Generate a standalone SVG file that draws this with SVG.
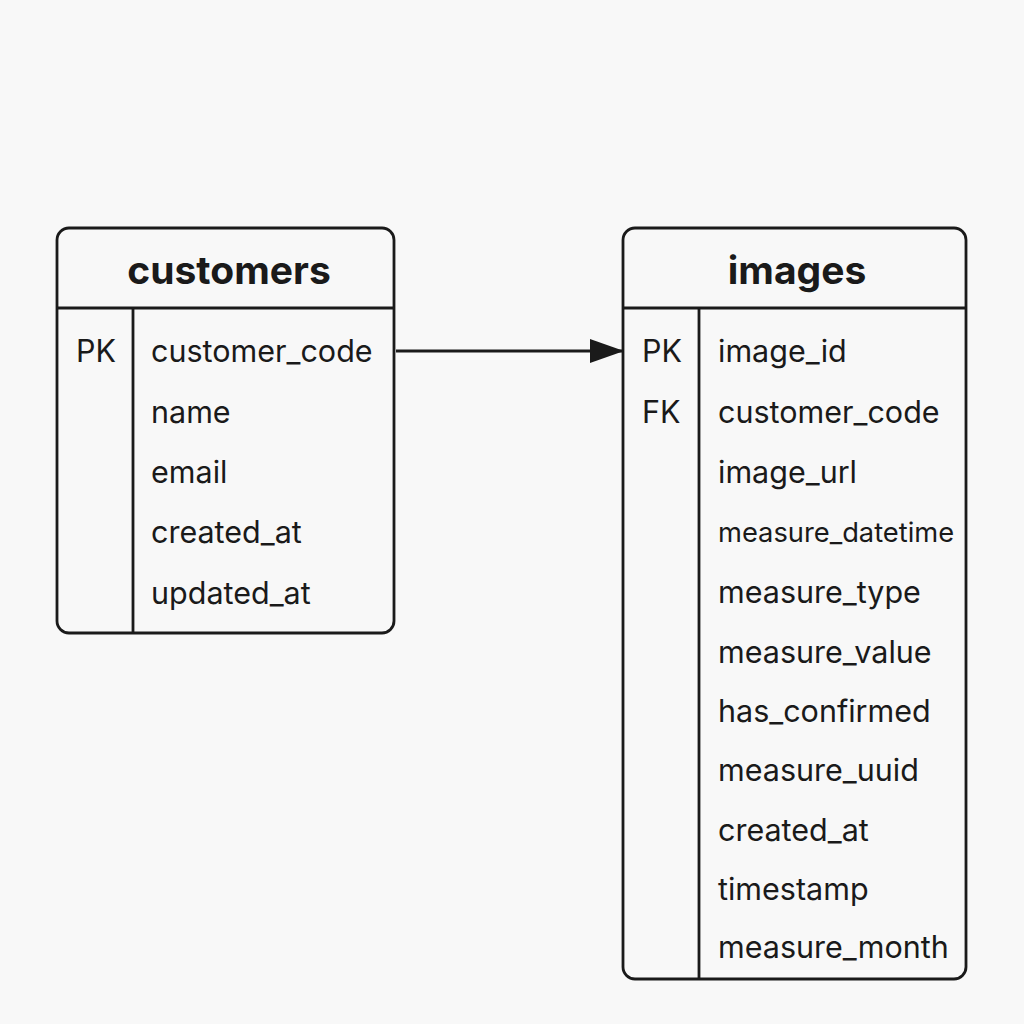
<svg xmlns="http://www.w3.org/2000/svg" width="1024" height="1024" viewBox="0 0 1024 1024">
<style>
.box{fill:#f8f8f8;stroke:#1a1a1a;stroke-width:2.8}
.ln{stroke:#1a1a1a;stroke-width:2.8;fill:none}
.title{font-family:Inter,Roboto,"Liberation Sans",sans-serif;font-weight:bold;font-size:39px;fill:#1a1a1a;text-anchor:middle}
.f{font-family:Inter,Roboto,"Liberation Sans",sans-serif;font-size:30.5px;fill:#1a1a1a}
.s{font-size:27.3px}
</style>
<defs>
<marker id="arr" markerWidth="34" markerHeight="24" refX="33" refY="12" orient="auto" markerUnits="userSpaceOnUse">
<path d="M0,0 L34,12 L0,24 Z" fill="#1a1a1a"/>
</marker>
</defs>
<rect width="1024" height="1024" fill="#f8f8f8"/>
<g id="customers">
<rect class="box" x="57" y="228" width="337" height="405" rx="12"/>
<line class="ln" x1="57" y1="308" x2="394" y2="308"/>
<line class="ln" x1="133" y1="308" x2="133" y2="633"/>
<text class="title" x="229" y="284">customers</text>
<text class="f" x="76" y="362">PK</text>
<text class="f" x="151" y="362">customer_code</text>
<text class="f" x="151" y="423">name</text>
<text class="f" x="151" y="483">email</text>
<text class="f" x="151" y="543">created_at</text>
<text class="f" x="151" y="604">updated_at</text>
</g>
<g id="images">
<rect class="box" x="623" y="228" width="343" height="751" rx="12"/>
<line class="ln" x1="623" y1="308" x2="966" y2="308"/>
<line class="ln" x1="699" y1="308" x2="699" y2="979"/>
<text class="title" x="797" y="284">images</text>
<text class="f" x="642" y="362">PK</text>
<text class="f" x="642" y="423">FK</text>
<text class="f" x="718" y="362">image_id</text>
<text class="f" x="718" y="423">customer_code</text>
<text class="f" x="718" y="483">image_url</text>
<text class="f s" x="718" y="542">measure_datetime</text>
<text class="f" x="718" y="603">measure_type</text>
<text class="f" x="718" y="663">measure_value</text>
<text class="f" x="718" y="722">has_confirmed</text>
<text class="f" x="718" y="781">measure_uuid</text>
<text class="f" x="718" y="841">created_at</text>
<text class="f" x="718" y="900">timestamp</text>
<text class="f" x="718" y="958">measure_month</text>
</g>
<g id="connectors">
<line class="ln" x1="396" y1="351" x2="623" y2="351" marker-end="url(#arr)"/>
</g>
</svg>
